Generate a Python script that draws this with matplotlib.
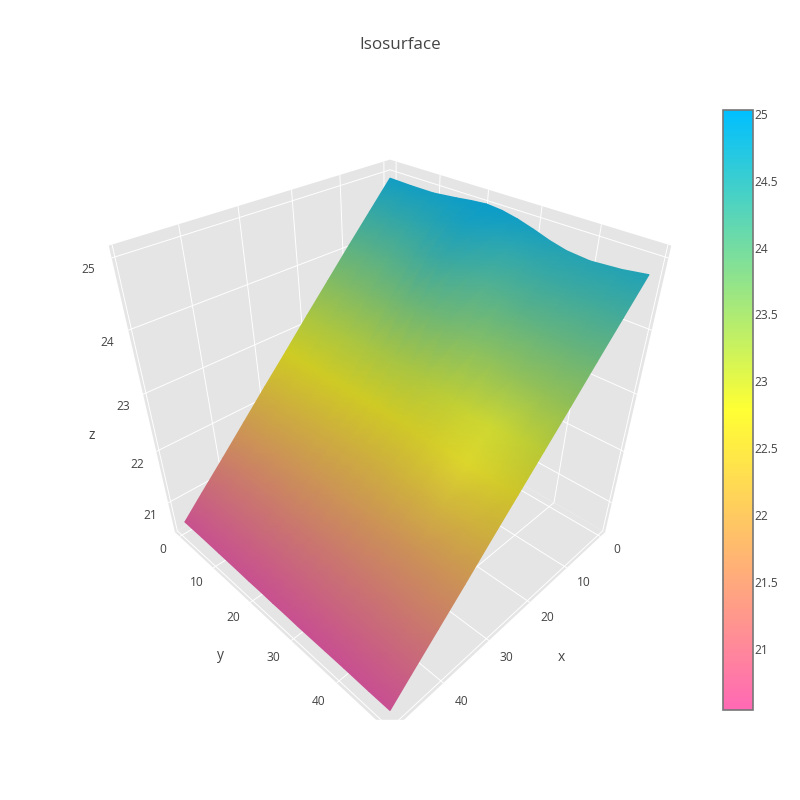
import numpy as np
import matplotlib
matplotlib.use('Agg')
import matplotlib.pyplot as plt
from matplotlib.cm import ScalarMappable
from matplotlib.colors import LinearSegmentedColormap, Normalize
from matplotlib.patches import Rectangle
from mpl_toolkits.mplot3d import proj3d

plt.rcParams['font.family'] = ['Open Sans', 'DejaVu Sans']
plt.rcParams['grid.color'] = 'white'
plt.rcParams['grid.linewidth'] = 0.7

TEXT = '#444444'

x_values = [0, 5, 10, 15, 20, 25, 30, 35, 40, 45, 49]
y_values = [0, 5, 10, 15, 18, 21, 24, 27, 30, 33, 36, 40, 45, 49]
# one row per x value, one column per y value
z_values = [
    [24.93, 24.92, 24.92, 24.96, 24.99, 25.01, 24.99, 24.94, 24.87, 24.79, 24.73, 24.70, 24.73, 24.78],
    [24.50, 24.53, 24.60, 24.72, 24.80, 24.86, 24.88, 24.84, 24.76, 24.64, 24.53, 24.43, 24.38, 24.35],
    [24.07, 24.10, 24.17, 24.30, 24.40, 24.47, 24.50, 24.46, 24.38, 24.27, 24.15, 24.03, 23.96, 23.92],
    [23.63, 23.65, 23.70, 23.80, 23.86, 23.90, 23.92, 23.88, 23.80, 23.71, 23.62, 23.54, 23.50, 23.48],
    [23.19, 23.19, 23.20, 23.23, 23.25, 23.26, 23.24, 23.18, 23.10, 23.03, 22.99, 22.98, 23.02, 23.05],
    [22.74, 22.74, 22.72, 22.72, 22.72, 22.72, 22.71, 22.69, 22.66, 22.65, 22.65, 22.64, 22.63, 22.62],
    [22.30, 22.29, 22.27, 22.25, 22.24, 22.24, 22.24, 22.24, 22.24, 22.23, 22.22, 22.21, 22.20, 22.19],
    [21.85, 21.84, 21.82, 21.80, 21.79, 21.78, 21.77, 21.77, 21.76, 21.76, 21.75, 21.75, 21.75, 21.75],
    [21.40, 21.38, 21.36, 21.34, 21.33, 21.32, 21.32, 21.31, 21.31, 21.31, 21.31, 21.31, 21.32, 21.32],
    [20.96, 20.94, 20.92, 20.90, 20.89, 20.88, 20.88, 20.88, 20.88, 20.88, 20.88, 20.88, 20.89, 20.89],
    [20.60, 20.60, 20.59, 20.58, 20.57, 20.57, 20.56, 20.56, 20.55, 20.55, 20.55, 20.55, 20.54, 20.54],
]
# how much the scene lighting brightens each mesh point
light_values = [
    [0.00, 0.00, 0.00, 0.00, 0.00, 0.00, 0.00, 0.00, 0.00, 0.00, 0.00, 0.00, 0.00, 0.00],
    [0.00, 0.00, 0.00, 0.00, 0.00, 0.00, 0.02, 0.04, 0.05, 0.04, 0.02, 0.00, 0.00, 0.00],
    [0.00, 0.00, 0.00, 0.00, 0.00, 0.00, 0.02, 0.05, 0.07, 0.06, 0.03, 0.01, 0.00, 0.00],
    [0.00, 0.00, 0.00, 0.00, 0.00, 0.00, 0.01, 0.03, 0.06, 0.08, 0.08, 0.05, 0.02, 0.00],
    [0.00, 0.00, 0.00, 0.00, 0.00, 0.00, 0.00, 0.02, 0.05, 0.10, 0.18, 0.26, 0.12, 0.00],
    [0.00, 0.00, 0.00, 0.00, 0.00, 0.00, 0.00, 0.01, 0.04, 0.09, 0.18, 0.30, 0.12, 0.00],
    [0.00, 0.00, 0.00, 0.00, 0.00, 0.00, 0.00, 0.00, 0.01, 0.03, 0.05, 0.08, 0.03, 0.00],
    [0.00, 0.00, 0.00, 0.00, 0.00, 0.00, 0.00, 0.00, 0.00, 0.00, 0.00, 0.00, 0.00, 0.00],
    [0.00, 0.00, 0.00, 0.00, 0.00, 0.00, 0.00, 0.00, 0.00, 0.00, 0.00, 0.00, 0.00, 0.00],
    [0.00, 0.00, 0.00, 0.00, 0.00, 0.00, 0.00, 0.00, 0.00, 0.00, 0.00, 0.00, 0.00, 0.00],
    [0.00, 0.00, 0.00, 0.00, 0.00, 0.00, 0.00, 0.00, 0.00, 0.00, 0.00, 0.00, 0.00, 0.00],
]

axis_ticks = [0, 10, 20, 30, 40, 50]
axis_tick_labels = ['0', '10', '20', '30', '40']
z_ticks = [21, 22, 23, 24, 25]
colorbar_ticks = [21, 21.5, 22, 22.5, 23, 23.5, 24, 24.5, 25]
colorbar_tick_labels = ['21', '21.5', '22', '22.5', '23', '23.5', '24', '24.5', '25']

z_min, z_max = 20.54, 25.03
bar_cmap = LinearSegmentedColormap.from_list('bar', ['#ff69b4', '#ffff33', '#00bfff'])
# the surface is lit in the original, so its colours are darker than the bar
surf_cmap = LinearSegmentedColormap.from_list('surf', ['#c84f92', '#cfcf22', '#0a9ccb'])
norm = Normalize(z_min, z_max)

fig = plt.figure(figsize=(8, 8), dpi=100)
ax = fig.add_axes([-0.026, -0.0235, 1, 1], projection='3d')
ax.patch.set_alpha(0)
ax.set_proj_type('persp', focal_length=0.1726)
ax.view_init(elev=35.264, azim=45)
ax.set_box_aspect((1, 1, 1), zoom=0.7246)
ax.set_xlim(-1.47, 50.47, view_margin=0)
ax.set_ylim(-1.47, 50.47, view_margin=0)
ax.set_zlim(20.38, 25.16, view_margin=0)

for axis in (ax.xaxis, ax.yaxis, ax.zaxis):
    axis.set_pane_color('#e5e5e5')
    axis.pane.set_edgecolor('none')
    axis.line.set_color((1, 1, 1, 0))

ax.set_xticks(axis_ticks, [''] * 6)
ax.set_yticks(axis_ticks, [''] * 6)
ax.set_zticks(z_ticks, [''] * 5)
ax.tick_params(axis='both', color=(1, 1, 1, 0))


def project(x, y, z):
    xp, yp, _ = proj3d.proj_transform(np.asarray(x, float), np.asarray(y, float),
                                      np.asarray(z, float), ax.get_proj())
    return xp, yp


# gouraud shading only exists in 2D, so project the mesh and draw it on an overlay
overlay = fig.add_axes(ax.get_position(), facecolor='none')
overlay.set_xlim(ax.viewLim.intervalx)
overlay.set_ylim(ax.viewLim.intervaly)
overlay.axis('off')

X, Y = np.meshgrid(x_values, y_values, indexing='ij')
Z = np.array(z_values)
xp, yp = project(X.ravel(), Y.ravel(), Z.ravel())

n_x, n_y = Z.shape
triangles = []
for i in range(n_x - 1):
    for j in range(n_y - 1):
        a = i * n_y + j
        triangles.append([a, a + 1, a + n_y])
        triangles.append([a + 1, a + n_y + 1, a + n_y])
triangles = np.array(triangles)

mesh = overlay.tripcolor(xp, yp, triangles, Z.ravel(), shading='gouraud', cmap=surf_cmap, norm=norm)
# gouraud meshes ignore alpha, so mix the highlight into the vertex colours
vertex_colors = surf_cmap(norm(Z.ravel()))
light = np.array(light_values).ravel()[:, None]
vertex_colors[:, :3] += light * (np.array([1, 1, 0.2]) - vertex_colors[:, :3])
mesh.set_array(None)
mesh.set_facecolor(vertex_colors)


def scene_text(x, y, z, label, size=8.64):
    px, py = project(x, y, z)
    overlay.text(px, py, label, ha='center', va='center', fontsize=size, color=TEXT)


# tick labels sit at fixed spots beside the box edges, like the original
for tick, label in zip(axis_ticks, axis_tick_labels):
    scene_text(tick, 53.77, 20.31, label)
    scene_text(53.77, tick, 20.31, label)
for tick in z_ticks:
    scene_text(53.98, -1.13, tick - 0.03, str(tick))
scene_text(24.5, 59.4, 20.32, 'x', size=10)
scene_text(59.1, 24.5, 20.34, 'y', size=10)
scene_text(59.43, -1.26, 22.75, 'z', size=10)

# the scene is cut off a little above the bottom of the figure
fig.add_artist(Rectangle((0, 0), 1, 0.1, transform=fig.transFigure, color='white', zorder=5))

fig.text(0.5, 0.944, 'Isosurface', ha='center', va='center', fontsize=12.24, color=TEXT)

cax = fig.add_axes([723 / 800, 90 / 800, 30 / 800, 600 / 800])
cb = fig.colorbar(ScalarMappable(norm=norm, cmap=bar_cmap), cax=cax)
cb.set_ticks(colorbar_ticks, labels=colorbar_tick_labels)
cb.ax.tick_params(length=0, labelsize=8.64, labelcolor=TEXT, pad=1)
cb.outline.set_edgecolor('#777777')
cb.outline.set_linewidth(1.2)

fig.savefig('out.png', dpi=100)
